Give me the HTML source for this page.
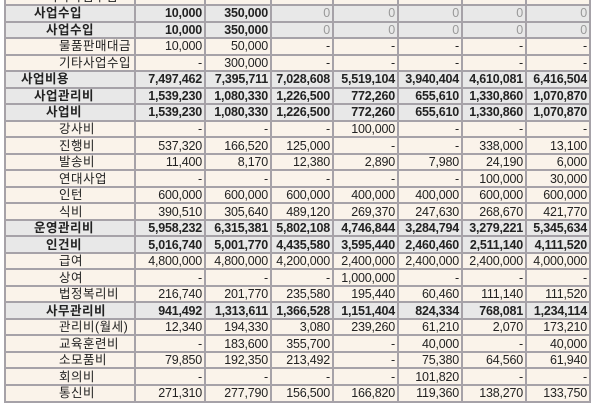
<!DOCTYPE html>
<html><head><meta charset="utf-8"><style>
body{margin:0;width:600px;height:400px;overflow:hidden;background:#fff;position:relative}
table{position:absolute;left:4px;top:-12.4px;border-collapse:collapse;table-layout:fixed;font-family:"Liberation Sans","Noto Sans CJK KR","NanumGothic",sans-serif;font-size:12.5px;color:#222}
td{border:2px solid #a6a2a8;height:14.52px;padding:0 2px;line-height:14px;text-align:right;white-space:nowrap;overflow:hidden;background:#faf3ea;letter-spacing:-0.2px}
td:first-child{text-align:left;letter-spacing:0.5px}
tr.b td{background:#e8e8e8;font-weight:bold}
.z{color:#999;font-weight:normal!important}
.l1{padding-left:15px}.l2{padding-left:28px}.l3{padding-left:40px}.l4{padding-left:53px}
</style></head><body>
<table>
<colgroup><col style="width:130px"><col style="width:70px"><col style="width:66px"><col style="width:62px"><col style="width:65px"><col style="width:64px"><col style="width:64px"><col style="width:64px"></colgroup>
<tr><td class="l3">기타사업수입</td><td></td><td></td><td></td><td></td><td></td><td></td><td></td></tr>
<tr class="b"><td class="l2">사업수입</td><td>10,000</td><td>350,000</td><td class="z">0</td><td class="z">0</td><td class="z">0</td><td class="z">0</td><td class="z">0</td></tr>
<tr class="b"><td class="l3">사업수입</td><td>10,000</td><td>350,000</td><td class="z">0</td><td class="z">0</td><td class="z">0</td><td class="z">0</td><td class="z">0</td></tr>
<tr><td class="l4">물품판매대금</td><td>10,000</td><td>50,000</td><td>-</td><td>-</td><td>-</td><td>-</td><td>-</td></tr>
<tr><td class="l4">기타사업수입</td><td>-</td><td>300,000</td><td>-</td><td>-</td><td>-</td><td>-</td><td>-</td></tr>
<tr class="b"><td class="l1">사업비용</td><td>7,497,462</td><td>7,395,711</td><td>7,028,608</td><td>5,519,104</td><td>3,940,404</td><td>4,610,081</td><td>6,416,504</td></tr>
<tr class="b"><td class="l2">사업관리비</td><td>1,539,230</td><td>1,080,330</td><td>1,226,500</td><td>772,260</td><td>655,610</td><td>1,330,860</td><td>1,070,870</td></tr>
<tr class="b"><td class="l3">사업비</td><td>1,539,230</td><td>1,080,330</td><td>1,226,500</td><td>772,260</td><td>655,610</td><td>1,330,860</td><td>1,070,870</td></tr>
<tr><td class="l4">강사비</td><td>-</td><td>-</td><td>-</td><td>100,000</td><td>-</td><td>-</td><td>-</td></tr>
<tr><td class="l4">진행비</td><td>537,320</td><td>166,520</td><td>125,000</td><td>-</td><td>-</td><td>338,000</td><td>13,100</td></tr>
<tr><td class="l4">발송비</td><td>11,400</td><td>8,170</td><td>12,380</td><td>2,890</td><td>7,980</td><td>24,190</td><td>6,000</td></tr>
<tr><td class="l4">연대사업</td><td>-</td><td>-</td><td>-</td><td>-</td><td>-</td><td>100,000</td><td>30,000</td></tr>
<tr><td class="l4">인턴</td><td>600,000</td><td>600,000</td><td>600,000</td><td>400,000</td><td>400,000</td><td>600,000</td><td>600,000</td></tr>
<tr><td class="l4">식비</td><td>390,510</td><td>305,640</td><td>489,120</td><td>269,370</td><td>247,630</td><td>268,670</td><td>421,770</td></tr>
<tr class="b"><td class="l2">운영관리비</td><td>5,958,232</td><td>6,315,381</td><td>5,802,108</td><td>4,746,844</td><td>3,284,794</td><td>3,279,221</td><td>5,345,634</td></tr>
<tr class="b"><td class="l3">인건비</td><td>5,016,740</td><td>5,001,770</td><td>4,435,580</td><td>3,595,440</td><td>2,460,460</td><td>2,511,140</td><td>4,111,520</td></tr>
<tr><td class="l4">급여</td><td>4,800,000</td><td>4,800,000</td><td>4,200,000</td><td>2,400,000</td><td>2,400,000</td><td>2,400,000</td><td>4,000,000</td></tr>
<tr><td class="l4">상여</td><td>-</td><td>-</td><td>-</td><td>1,000,000</td><td>-</td><td>-</td><td>-</td></tr>
<tr><td class="l4">법정복리비</td><td>216,740</td><td>201,770</td><td>235,580</td><td>195,440</td><td>60,460</td><td>111,140</td><td>111,520</td></tr>
<tr class="b"><td class="l3">사무관리비</td><td>941,492</td><td>1,313,611</td><td>1,366,528</td><td>1,151,404</td><td>824,334</td><td>768,081</td><td>1,234,114</td></tr>
<tr><td class="l4">관리비(월세)</td><td>12,340</td><td>194,330</td><td>3,080</td><td>239,260</td><td>61,210</td><td>2,070</td><td>173,210</td></tr>
<tr><td class="l4">교육훈련비</td><td>-</td><td>183,600</td><td>355,700</td><td>-</td><td>40,000</td><td>-</td><td>40,000</td></tr>
<tr><td class="l4">소모품비</td><td>79,850</td><td>192,350</td><td>213,492</td><td>-</td><td>75,380</td><td>64,560</td><td>61,940</td></tr>
<tr><td class="l4">회의비</td><td>-</td><td>-</td><td>-</td><td>-</td><td>101,820</td><td>-</td><td>-</td></tr>
<tr><td class="l4">통신비</td><td>271,310</td><td>277,790</td><td>156,500</td><td>166,820</td><td>119,360</td><td>138,270</td><td>133,750</td></tr>
</table>
</body></html>
